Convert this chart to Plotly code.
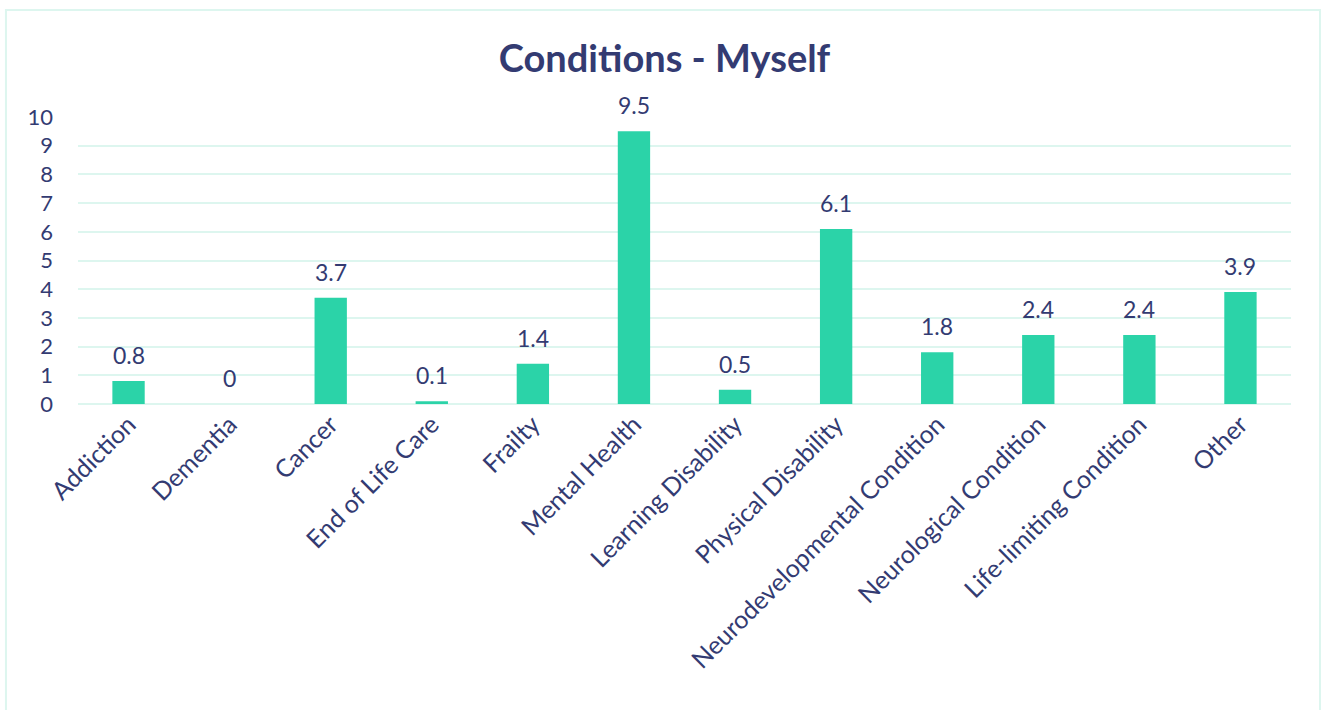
import plotly.graph_objects as go

categories = ["Addiction", "Dementia", "Cancer", "End of Life Care", "Frailty",
              "Mental Health", "Learning Disability", "Physical Disability",
              "Neurodevelopmental Condition", "Neurological Condition",
              "Life-limiting Condition", "Other"]
values = [0.8, 0, 3.7, 0.1, 1.4, 9.5, 0.5, 6.1, 1.8, 2.4, 2.4, 3.9]
y_ticks = list(range(0, 11))

navy = "#333B72"
teal = "#2BD3A8"
grid = "#DDF6EF"

fig = go.Figure(go.Bar(
    x=categories,
    y=values,
    marker=dict(color=teal, line=dict(width=0)),
    cliponaxis=False,
))

# value labels sit a bit higher above the bars than plotly's "outside" text
for cat, val in zip(categories, values):
    fig.add_annotation(x=cat, y=val, text=str(val), showarrow=False,
                       yanchor="middle", yshift=26,
                       font=dict(size=23, color=navy))

fig.update_layout(
    width=1329, height=710,
    paper_bgcolor="white", plot_bgcolor="white",
    font=dict(family="Lato, Open Sans, sans-serif", color=navy),
    title=dict(text="<b>Conditions - Myself</b>", x=0.5, xanchor="center",
               y=0.918, yanchor="middle", font=dict(size=38, color=navy)),
    margin=dict(l=78, r=38, t=117, b=306),
    bargap=0.68,
    showlegend=False,
    shapes=[dict(type="rect", xref="paper", yref="paper",
                 x0=-0.0594, x1=1.0239, y0=-1.09, y1=1.3728,
                 line=dict(color=grid, width=2), fillcolor="rgba(0,0,0,0)")],
)
fig.update_xaxes(tickangle=-45, tickfont=dict(size=25, color=navy),
                 showline=False, ticks="")
fig.update_yaxes(range=[0, 10], tickvals=y_ticks, tickfont=dict(size=22, color=navy),
                 showgrid=True, gridcolor=grid, gridwidth=2,
                 zeroline=True, zerolinecolor=grid, zerolinewidth=2, ticks="",
                 ticklabelstandoff=24)

# the page body has an 8px default margin; drop it so the chart sits at 0,0
fig.write_html("out.html", config={"displayModeBar": False},
               post_script="document.body.style.margin='0px';")
